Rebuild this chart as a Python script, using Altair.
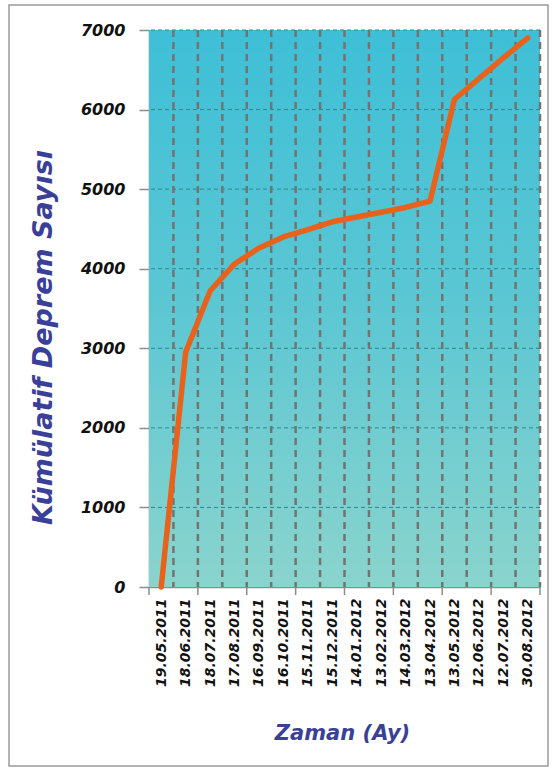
import altair as alt
import pandas as pd

# ---- data ----
dates = ["19.05.2011", "18.06.2011", "18.07.2011", "17.08.2011", "16.09.2011",
         "16.10.2011", "15.11.2011", "15.12.2011", "14.01.2012", "13.02.2012",
         "14.03.2012", "13.04.2012", "13.05.2012", "12.06.2012", "12.07.2012",
         "30.08.2012"]
counts = [0, 2950, 3720, 4060, 4260, 4400, 4490, 4590, 4650, 4710, 4770, 4850,
          6130, 6390, 6650, 6900]
y_ticks = [0, 1000, 2000, 3000, 4000, 5000, 6000, 7000]

W, H = 391, 557
FONT = "DejaVu Sans"

idx = list(range(len(dates)))
df = pd.DataFrame({"i": idx, "date": dates, "count": counts})
vgrid_df = pd.DataFrame({"i": [i + 0.5 for i in idx]})
hgrid_df = pd.DataFrame({"count": y_ticks[1:]})
tick_df = pd.DataFrame({"i": [i - 0.5 for i in idx[::2]] + [len(dates) - 0.5]})
one = pd.DataFrame({"k": [0]})

xscale = alt.Scale(domain=[-0.5, len(dates) - 0.5], nice=False, zero=False)
yscale = alt.Scale(domain=[0, 7000], nice=False, zero=False)

label_expr = "[" + ",".join("'" + d + "'" for d in dates) + "][datum.value]"

x_axis = alt.Axis(values=idx, labelExpr=label_expr, labelAngle=270,
                  labelAlign="right", labelBaseline="middle",
                  ticks=False, grid=False, labelOverlap=False,
                  labelFlush=False,
                  domainColor="#8c8c8c", domainWidth=1.5,
                  labelFont=FONT, labelFontWeight="bold",
                  labelFontStyle="italic", labelFontSize=14,
                  labelColor="#111111", labelPadding=11,
                  title="Zaman (Ay)", titleFont=FONT,
                  titleFontWeight="bold", titleFontStyle="italic",
                  titleFontSize=21, titleColor="#3A3F98",
                  titleX=193, titleY=146, titleAlign="center",
                  titleBaseline="middle")
y_axis = alt.Axis(values=y_ticks, format="d", grid=False, tickSize=10,
                  tickColor="#8c8c8c", tickWidth=1.5,
                  domainColor="#8c8c8c", domainWidth=1.5,
                  labelFont=FONT, labelFontWeight="bold",
                  labelFontStyle="italic", labelFontSize=16,
                  labelColor="#111111", labelPadding=14,
                  title="Kümülatif Deprem Sayısı", titleFont=FONT,
                  titleFontWeight="bold", titleFontStyle="italic",
                  titleFontSize=27, titleColor="#3A3F98",
                  titleAngle=270, titleX=-106, titleY=307,
                  titleAlign="center", titleBaseline="middle")

X = alt.X("i:Q", scale=xscale, axis=x_axis)
Y = alt.Y("count:Q", scale=yscale, axis=y_axis)

bg = alt.Chart(one).mark_rect(
    color=alt.Gradient(
        gradient="linear",
        stops=[alt.GradientStop(color="#3EBFD7", offset=0),
               alt.GradientStop(color="#5CC7D3", offset=0.5),
               alt.GradientStop(color="#8AD4CD", offset=1)],
        x1=0, x2=0, y1=0, y2=1),
).encode(x=alt.value(0), x2=alt.value(W), y=alt.value(0), y2=alt.value(H))

hgrid = alt.Chart(hgrid_df).mark_rule(
    color="#2A8890", strokeDash=[4, 3], strokeWidth=1
).encode(y=Y)

vgrid = alt.Chart(vgrid_df).mark_rule(
    color="#737370", strokeDash=[7, 5], strokeWidth=2.5
).encode(x=X)

xticks = alt.Chart(tick_df).mark_rule(
    color="#8c8c8c", strokeWidth=1.5
).encode(x=X, y=alt.value(H), y2=alt.value(H + 8))

line = alt.Chart(df).mark_line(
    color="#E8621C", strokeWidth=5.5, strokeJoin="round", strokeCap="round"
).encode(x=X, y=Y)

frame = alt.Chart(one).mark_rect(
    fill=None, stroke="#9a9a9a", strokeWidth=1.5
).encode(x=alt.value(-140), x2=alt.value(399), y=alt.value(-25), y2=alt.value(736))

chart = alt.layer(bg, hgrid, vgrid, xticks, line, frame).properties(
    width=W, height=H,
    autosize=alt.AutoSizeParams(type="none"),
    padding={"left": 149, "top": 30, "right": 16, "bottom": 183},
    background="white",
).configure_view(stroke=None)

chart.save("out.html", embed_options={"renderer": "svg", "actions": False})
